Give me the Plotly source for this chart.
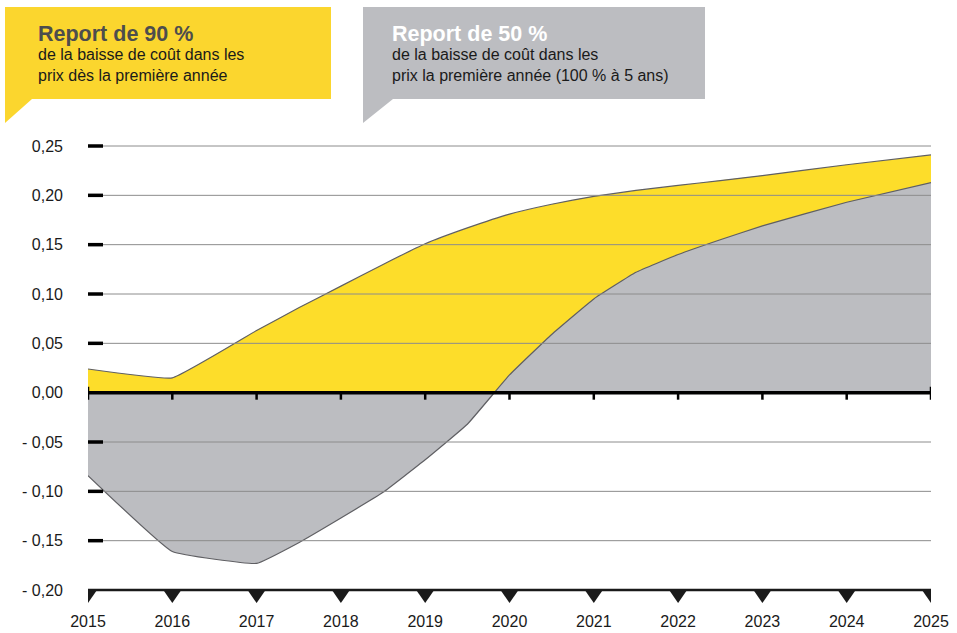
import plotly.graph_objects as go

# --- data -------------------------------------------------------------
years = [2015, 2016, 2017, 2017.5, 2018, 2018.5, 2019, 2019.5,
         2020, 2020.5, 2021, 2021.5, 2022, 2022.5, 2023, 2024, 2025]
report_90 = [0.024, 0.015, 0.063, 0.086, 0.108, 0.130, 0.151, 0.167,
             0.181, 0.191, 0.199, 0.205, 0.210, 0.215, 0.220, 0.231, 0.241]
report_50 = [-0.084, -0.161, -0.173, -0.152, -0.127, -0.101, -0.068, -0.032,
             0.018, 0.059, 0.095, 0.122, 0.140, 0.155, 0.169, 0.193, 0.213]

tick_years = list(range(2015, 2026))
y_ticks = [0.25, 0.20, 0.15, 0.10, 0.05, 0.0, -0.05, -0.10, -0.15, -0.20]
y_tick_text = ["0,25", "0,20", "0,15", "0,10", "0,05", "0,00",
               "- 0,05", "- 0,10", "- 0,15", "- 0,20"]

title_90 = "Report de 90 %"
sub_90 = "de la baisse de coût dans les<br>prix dès la première année"
title_50 = "Report de 50 %"
sub_50 = "de la baisse de coût dans les<br>prix la première année (100 % à 5 ans)"

# --- style ------------------------------------------------------------
YELLOW = "#fddd2a"
YELLOW_BOX = "#fbd62e"
GREY = "#bcbdc1"
EDGE = "#5f5f63"
GRID = "#8c8c8c"
INK = "#1a1a1a"
FONT = "Liberation Sans, Arial, sans-serif"

W, H = 957, 633
L, R, T, B = 88, 26, 141, 28
PW, PH = W - L - R, H - T - B
Y_TOP, Y_BOT = 0.25507, 0.25507 - PH / 986.7


def px(x):
    return (x - L) / PW


def py(y):
    return (H - B - y) / PH


fig = go.Figure()

fig.add_trace(go.Scatter(
    x=years, y=report_90, mode="lines", fill="tozeroy",
    fillcolor=YELLOW, line=dict(color=EDGE, width=1.2, shape="spline", smoothing=0.3),
    hoverinfo="x+y", showlegend=False))
fig.add_trace(go.Scatter(
    x=years, y=report_50, mode="lines", fill="tozeroy",
    fillcolor=GREY, line=dict(color=EDGE, width=1.2, shape="spline", smoothing=0.3),
    hoverinfo="x+y", showlegend=False))

shapes = []
# horizontal grid lines
for v in y_ticks:
    if v in (0.0, -0.20):
        continue
    shapes.append(dict(type="line", xref="x", yref="y", x0=2015, x1=2025,
                       y0=v, y1=v, line=dict(color=GRID, width=1), layer="above"))
    # short black dash at the left end of each grid line
    shapes.append(dict(type="line", xref="x", yref="y", xsizemode="pixel",
                       xanchor=2015, x0=0, x1=15, y0=v, y1=v,
                       line=dict(color="black", width=3.5), layer="above"))

# zero line with small year ticks
shapes.append(dict(type="line", xref="x", yref="y", x0=2015, x1=2025,
                   y0=0, y1=0, line=dict(color="black", width=3.5), layer="above"))
for yr in tick_years:
    top = 6 if yr in (2015, 2025) else 0
    shapes.append(dict(type="line", xref="x", yref="y", xsizemode="pixel",
                       ysizemode="pixel", xanchor=yr, yanchor=0,
                       x0=0, x1=0, y0=top, y1=-7,
                       line=dict(color="black", width=2.5), layer="above"))

# bottom axis with downward triangles
shapes.append(dict(type="line", xref="x", yref="y", x0=2015, x1=2025,
                   y0=-0.20, y1=-0.20, line=dict(color=INK, width=2.5), layer="above"))
for yr in tick_years:
    shapes.append(dict(type="path", xref="x", yref="y", xsizemode="pixel",
                       ysizemode="pixel", xanchor=yr, yanchor=-0.20,
                       path="M -9,0 L 9,0 L 0,-13 Z",
                       fillcolor=INK, line=dict(width=0), layer="above"))

# header boxes with speech-bubble tails
def bubble(x0, x1, y0, y1, tail_w, tail_h, color):
    p = (f"M {px(x0)},{py(y0)} L {px(x1)},{py(y0)} L {px(x1)},{py(y1)} "
         f"L {px(x0 + tail_w)},{py(y1)} L {px(x0)},{py(y1 + tail_h)} Z")
    return dict(type="path", xref="paper", yref="paper", path=p,
                fillcolor=color, line=dict(width=0), layer="above")


shapes.append(bubble(5, 331, 7, 99, 27, 24, YELLOW_BOX))
shapes.append(bubble(363, 705, 7, 99, 30, 24, GREY))

annotations = [
    dict(xref="paper", yref="paper", x=px(36), y=py(34), xanchor="left",
         yanchor="middle", text=f"<b>{title_90}</b>", showarrow=False,
         font=dict(family=FONT, size=21.5, color="#4d4d4d")),
    dict(xref="paper", yref="paper", x=px(36), y=py(64.5), xanchor="left",
         yanchor="middle", text=sub_90, showarrow=False, align="left",
         font=dict(family=FONT, size=16, color=INK)),
    dict(xref="paper", yref="paper", x=px(390), y=py(34), xanchor="left",
         yanchor="middle", text=f"<b>{title_50}</b>", showarrow=False,
         font=dict(family=FONT, size=21.5, color="white")),
    dict(xref="paper", yref="paper", x=px(390), y=py(64.5), xanchor="left",
         yanchor="middle", text=sub_50, showarrow=False, align="left",
         font=dict(family=FONT, size=16, color=INK)),
]

fig.update_layout(
    width=W, height=H,
    margin=dict(l=L, r=R, t=T, b=B, pad=0),
    paper_bgcolor="white", plot_bgcolor="white",
    shapes=shapes, annotations=annotations,
    font=dict(family=FONT, color=INK),
    showlegend=False,
    xaxis=dict(range=[2015, 2025], tickvals=tick_years,
               ticktext=[str(y) for y in tick_years], automargin=False,
               showgrid=False, zeroline=False, showline=False, ticks="",
               ticklabelstandoff=5, tickfont=dict(size=16, color=INK)),
    yaxis=dict(range=[Y_BOT, Y_TOP], tickvals=y_ticks, ticktext=y_tick_text,
               automargin=False,
               showgrid=False, zeroline=False, showline=False, ticks="",
               ticklabelstandoff=24, tickfont=dict(size=16, color=INK)),
)

fig.write_html("out.html")
